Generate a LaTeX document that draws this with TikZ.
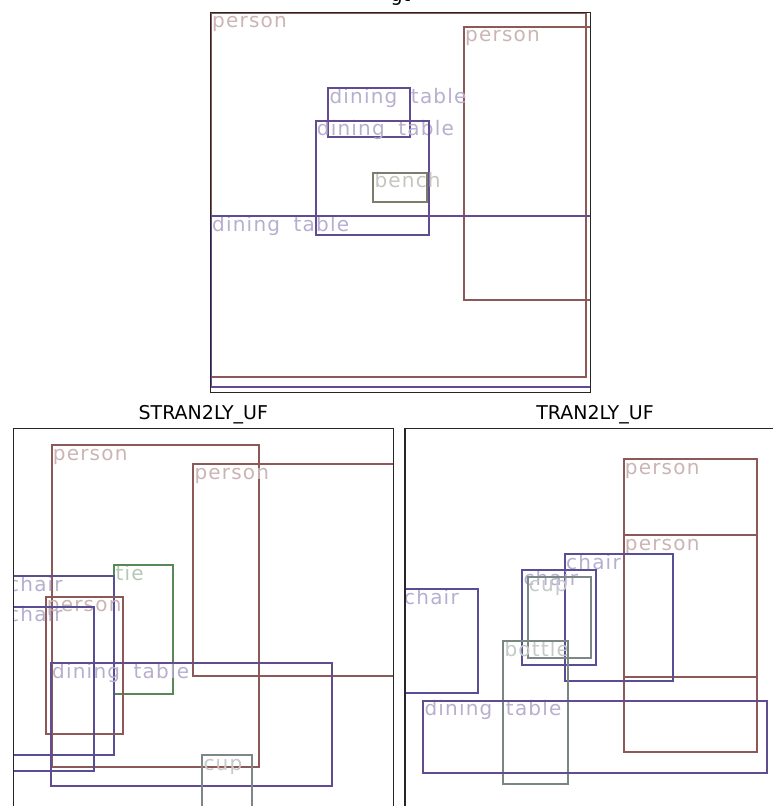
\documentclass[tikz,border=0pt]{standalone}
\usepackage{fontspec}
\setmainfont{DejaVu Sans}
\newfontfamily\lblfont[LetterSpace=6,WordSpace=1.8]{DejaVu Sans}

\definecolor{personc}{RGB}{140,88,88}
\definecolor{tablec}{RGB}{98,76,145}
\definecolor{chairc}{RGB}{88,78,150}
\definecolor{benchc}{RGB}{125,125,110}
\definecolor{tiec}{RGB}{88,135,88}
\definecolor{cupc}{RGB}{125,135,135}
\definecolor{bottlec}{RGB}{120,135,128}

\tikzset{
  frame/.style={draw=black!85, line width=1.1pt},
  box/.style={line width=1.9pt},
  lbl/.style={anchor=base west, inner sep=0pt, font=\lblfont\fontsize{20}{20}\selectfont},
  title/.style={anchor=base, inner sep=0pt, font=\fontsize{19}{19}\selectfont}
}

% name, colour, x1, y1, x2, y2, label
\newcommand{\detbox}[7]{%
  \node[lbl, text=#2!45!white] (#1) at (#3+1,#4+15) {#7};
  \draw[box, draw=#2] (#3,#4) rectangle (#5,#6);
}

\begin{document}
\begin{tikzpicture}[x=1pt, y=-1pt]
    \useasboundingbox (0,0) rectangle (772,806);

    % titles
    \node[title] (gt-title) at (400.5,1) {gt};
    \node[title] (sl-title) at (203.3,419) {STRAN2LY\_UF};
    \node[title] (tr-title) at (595,419) {TRAN2LY\_UF};

    % gt
    \begin{scope}
        \clip (210.7,12.7) rectangle (590.3,392.3);
        \detbox{gt-person1}{personc}{211}{12.7}{586}{377}{person}
        \detbox{gt-person2}{personc}{464}{26.7}{595}{300}{person}
        \detbox{gt-table1}{tablec}{328.3}{88.3}{410}{137.3}{dining table}
        \detbox{gt-table2}{tablec}{315.7}{120.7}{429}{235.3}{dining table}
        \detbox{gt-bench}{benchc}{373.3}{172.7}{426.7}{201.7}{bench}
        \detbox{gt-table3}{tablec}{211}{216}{595}{386.7}{dining table}
    \end{scope}
    \draw[frame] (210.7,12.7) rectangle (590.3,392.3);

    % STRAN2LY_UF
    \begin{scope}
        \clip (13.3,428.3) rectangle (393.3,808.3);
        \detbox{sl-person1}{personc}{51.7}{445}{259.3}{766.7}{person}
        \detbox{sl-person2}{personc}{193.3}{464}{400}{676}{person}
        \detbox{sl-tie}{tiec}{114.3}{565.3}{173.3}{694}{tie}
        \detbox{sl-chair1}{chairc}{7}{576}{114}{755}{chair}
        \detbox{sl-person3}{personc}{45.7}{596.7}{122.7}{734}{person}
        \detbox{sl-chair2}{chairc}{7}{606.7}{94}{771}{chair}
        \detbox{sl-table}{tablec}{51}{663.3}{331.7}{786}{dining table}
        \detbox{sl-cup}{cupc}{202.3}{755}{252.3}{815}{cup}
    \end{scope}
    \draw[frame] (13.3,428.3) rectangle (393.3,808.3);

    % TRAN2LY_UF
    \begin{scope}
        \clip (405,428.3) rectangle (785,808.3);
        \detbox{tr-person1}{personc}{623.7}{459.3}{756.7}{676.7}{person}
        \detbox{tr-person2}{personc}{623.7}{535}{756.7}{751.7}{person}
        \detbox{tr-chair1}{chairc}{565}{554}{672.7}{680.7}{chair}
        \detbox{tr-chair2}{chairc}{522.3}{570}{596.3}{665}{chair}
        \detbox{tr-cup}{cupc}{527.7}{576.7}{591}{658.3}{cup}
        \detbox{tr-chair3}{chairc}{403}{589.3}{478.3}{692.7}{chair}
        \detbox{tr-bottle}{bottlec}{503.3}{641}{568.3}{784.3}{bottle}
        \detbox{tr-table}{tablec}{423.3}{700.7}{766.7}{772.7}{dining table}
    \end{scope}
    \draw[frame] (405,428.3) rectangle (785,808.3);
\end{tikzpicture}
\end{document}
